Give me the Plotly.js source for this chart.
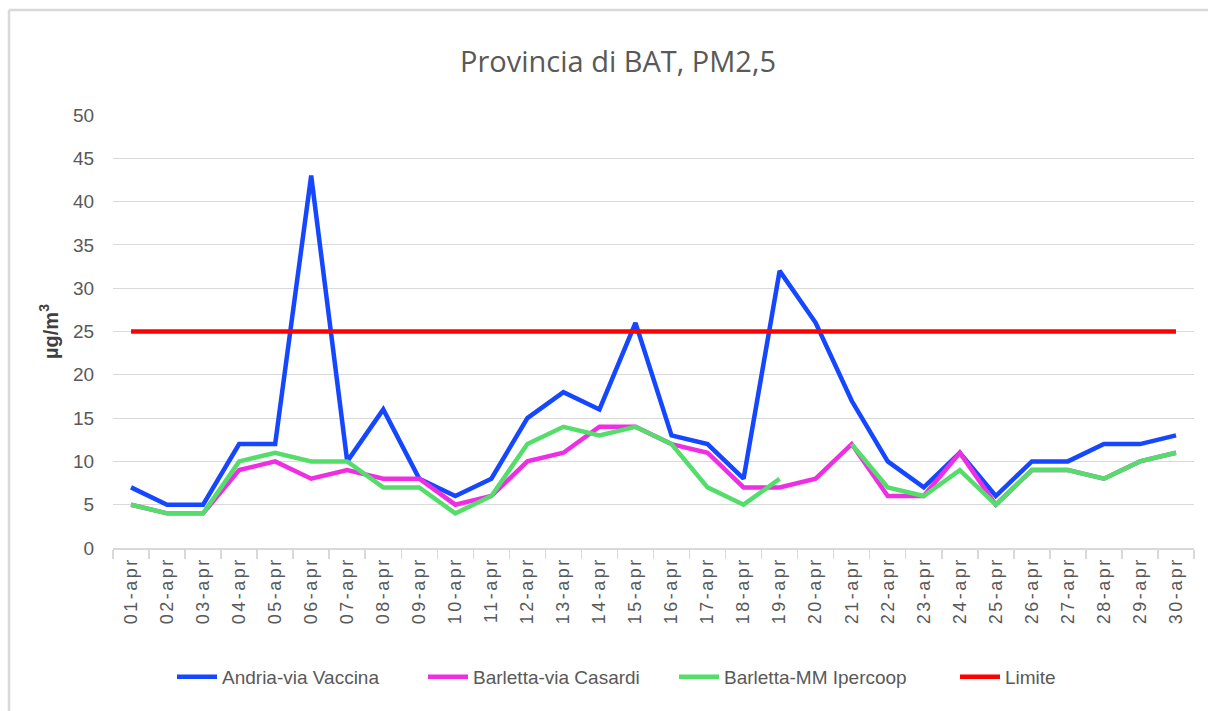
<!DOCTYPE html>
<html>
<head>
<meta charset="utf-8">
<script src="https://cdn.plot.ly/plotly-3.0.1.min.js"></script>
<style>
  html, body { margin: 0; padding: 0; background: #ffffff; }
  #chart { width: 1208px; height: 711px; }
  #chart .xtick text { letter-spacing: 2.5px; }
</style>
</head>
<body>
<div id="chart"></div>
<script>
const days = ["01-apr","02-apr","03-apr","04-apr","05-apr","06-apr","07-apr","08-apr","09-apr","10-apr",
              "11-apr","12-apr","13-apr","14-apr","15-apr","16-apr","17-apr","18-apr","19-apr","20-apr",
              "21-apr","22-apr","23-apr","24-apr","25-apr","26-apr","27-apr","28-apr","29-apr","30-apr"];
const andria   = [7, 5, 5, 12, 12, 43, 10, 16, 8, 6, 8, 15, 18, 16, 26, 13, 12, 8, 32, 26, 17, 10, 7, 11, 6, 10, 10, 12, 12, 13];
const casardi  = [5, 4, 4, 9, 10, 8, 9, 8, 8, 5, 6, 10, 11, 14, 14, 12, 11, 7, 7, 8, 12, 6, 6, 11, 5, 9, 9, 8, 10, 11];
const ipercoop = [5, 4, 4, 10, 11, 10, 10, 7, 7, 4, 6, 12, 14, 13, 14, 12, 7, 5, 8, null, 12, 7, 6, 9, 5, 9, 9, 8, 10, 11];
const limite   = [25, 25, 25, 25, 25, 25, 25, 25, 25, 25, 25, 25, 25, 25, 25, 25, 25, 25, 25, 25, 25, 25, 25, 25, 25, 25, 25, 25, 25, 25];
const yTicks = [0, 5, 10, 15, 20, 25, 30, 35, 40, 45, 50];

const FONT = "Liberation Sans, Arial, sans-serif";
const GREY = "#595959";

const mk = (name, y, color, legend) => ({
  type: "scatter", mode: "lines", name: name, x: days, y: y,
  line: { color: color, width: 4.5, shape: "linear" },
  connectgaps: false, hoverinfo: "x+y+name", legend: legend
});

const data = [
  mk("Andria-via Vaccina", andria, "#1447ff", "legend"),
  mk("Barletta-via Casardi", casardi, "#ef2ee4", "legend"),
  mk("Barletta-MM Ipercoop", ipercoop, "#55dd6c", "legend"),
  mk("Limite", limite, "#ff0000", "legend2")
];

const PL = 113, PR = 1194, PT = 115, PB = 548;
const px = v => (v - PL) / (PR - PL);
const py = v => (PB - v) / (PB - PT);

const legendBase = {
  orientation: "h",
  yanchor: "middle", y: py(677),
  xanchor: "left",
  font: { family: FONT, size: 19, color: GREY },
  bgcolor: "rgba(0,0,0,0)",
  itemwidth: 40,
  traceorder: "normal"
};

const layout = {
  width: 1208, height: 711,
  paper_bgcolor: "#ffffff", plot_bgcolor: "#ffffff",
  margin: { l: PL, r: 1208 - PR, t: PT, b: 711 - PB, pad: 0 },
  font: { family: FONT, color: GREY },
  title: {
    text: "Provincia di BAT, PM2,5",
    font: { family: "Open Sans, Liberation Sans, sans-serif", size: 29, color: GREY },
    x: px(618), xanchor: "center", xref: "paper",
    y: 1 - 62 / 711, yanchor: "middle", yref: "container"
  },
  xaxis: {
    type: "category",
    categoryorder: "array", categoryarray: days,
    range: [-0.5, 29.5],
    showgrid: false, zeroline: false,
    showline: true, linecolor: "#d9d9d9", linewidth: 2,
    ticks: "outside", tickson: "boundaries", ticklen: 9, tickcolor: "#d9d9d9", tickwidth: 1.5,
    tickangle: -90,
    tickfont: { family: "Liberation Sans, sans-serif", size: 18, color: GREY },
    fixedrange: true
  },
  yaxis: {
    range: [0, 50],
    tickmode: "array", tickvals: yTicks, ticktext: yTicks.map(String),
    showgrid: true, gridcolor: "#d9d9d9", gridwidth: 1,
    zeroline: false, showline: false,
    ticks: "outside", ticklen: 14, tickcolor: "rgba(0,0,0,0)",
    tickfont: { family: "Liberation Sans, sans-serif", size: 19, color: GREY },
    title: {
      text: "<b>µg/m<sup>3</sup></b>",
      font: { family: "Liberation Sans, sans-serif", size: 20, color: "#404040" },
      standoff: 9
    },
    automargin: false,
    fixedrange: true
  },
  showlegend: true,
  legend: Object.assign({}, legendBase, { x: px(172), entrywidth: 196 }),
  legend2: Object.assign({}, legendBase, { x: px(955) }),
  shapes: [
    { type: "line", xref: "paper", yref: "paper", x0: px(9), x1: px(9), y0: py(711), y1: py(10),
      line: { color: "#d9d9d9", width: 2.5 } },
    { type: "line", xref: "paper", yref: "paper", x0: px(9), x1: px(1215), y0: py(10), y1: py(10),
      line: { color: "#d9d9d9", width: 2.5 } }
  ]
};

Plotly.newPlot("chart", data, layout, { displayModeBar: false, staticPlot: true });
</script>
</body>
</html>
